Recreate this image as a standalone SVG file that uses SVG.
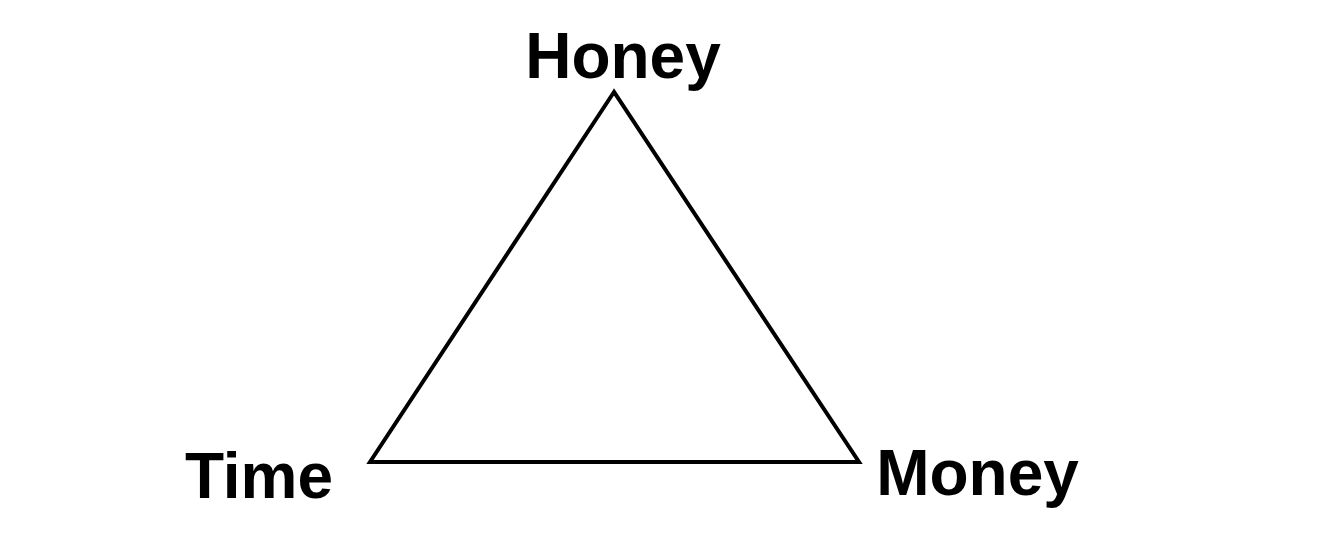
<svg xmlns="http://www.w3.org/2000/svg" width="1344" height="544" viewBox="0 0 1344 544">
<style>
.lbl{font-family:"Liberation Sans",Arial,sans-serif;font-weight:bold;font-size:64px;fill:#000;text-anchor:middle}
.edge{fill:none;stroke:#000;stroke-width:4;stroke-linejoin:miter}
</style>
<rect width="1344" height="544" fill="#fff"/>
<g id="connectors">
<polygon class="edge" points="614,92 370,462 859,462"/>
</g>
<g id="honey"><text class="lbl" x="623" y="78">Honey</text></g>
<g id="time"><text class="lbl" x="259" y="498">Time</text></g>
<g id="money"><text class="lbl" x="977.5" y="495">Money</text></g>
</svg>
